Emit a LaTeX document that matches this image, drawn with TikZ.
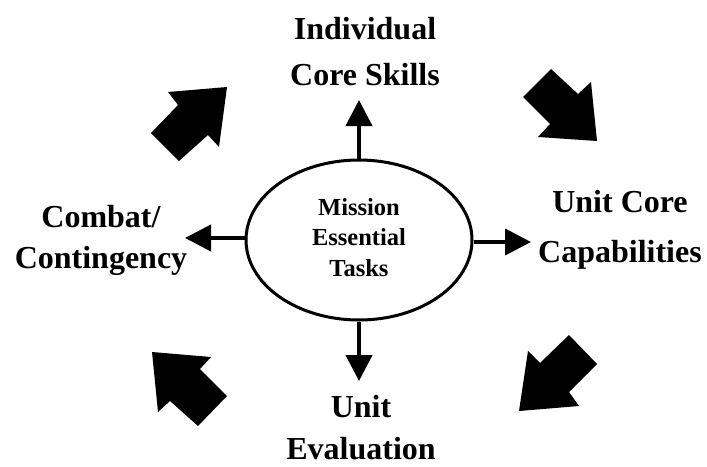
\documentclass[tikz,border=0pt]{standalone}
\usepackage{fontspec}
\setmainfont{Liberation Serif}
\usetikzlibrary{shapes.geometric,arrows.meta}
\tikzset{
  biglabel/.style={align=center, inner sep=0pt, anchor=base, font=\bfseries\fontsize{32}{#1}\selectfont},
  thinarrow/.style={line width=4pt, -{Triangle[length=26pt,width=26pt]}},
  fatarrow/.style={fill=black, draw=none},
  core/.style={ellipse, draw, line width=3pt, minimum width=226pt, minimum height=160pt, inner sep=0pt, align=center, font=\bfseries\fontsize{24.5}{30}\selectfont}
}
\begin{document}
\begin{tikzpicture}[x=1pt,y=-1pt]
\useasboundingbox (0,0) rectangle (707,466);
\node[core] (met) at (359,240) {\raisebox{-3pt}{\begin{tabular}{@{}c@{}}Mission\\[0pt]Essential\\[1pt]Tasks\end{tabular}}};
\node[biglabel=46] (ics) at (365,85) {Individual\\Core Skills};
\node[biglabel=41] (cc) at (101,268) {Combat/\\Contingency};
\node[biglabel=50] (ucc) at (620,262) {Unit Core\\Capabilities};
\node[biglabel=42] (ue) at (361,459) {Unit\\Evaluation};
\coordinate (tu) at (359,100);
\coordinate (td) at (359,381);
\coordinate (tl) at (185,238);
\coordinate (tr) at (531,242);
\draw[thinarrow] (met.north) -- (tu);
\draw[thinarrow] (met.south) -- (td);
\draw[thinarrow] (met.west |- tl) -- (tl);
\draw[thinarrow] (met.east |- tr) -- (tr);
\fill[fatarrow] (151,133) -- (178,105) -- (168,92) -- (227,87) -- (219,147) -- (208,135) -- (179,161) -- cycle;
\fill[fatarrow] (551,69) -- (578,94) -- (591,82) -- (597,141) -- (538,137) -- (550,124) -- (523,97) -- cycle;
\fill[fatarrow] (152,352) -- (211,357) -- (200,369) -- (227,396) -- (198,426) -- (170,401) -- (158,412) -- cycle;
\fill[fatarrow] (569,335) -- (597,364) -- (569,392) -- (579,406) -- (519,411) -- (528,351) -- (540,363) -- cycle;
\end{tikzpicture}
\end{document}
